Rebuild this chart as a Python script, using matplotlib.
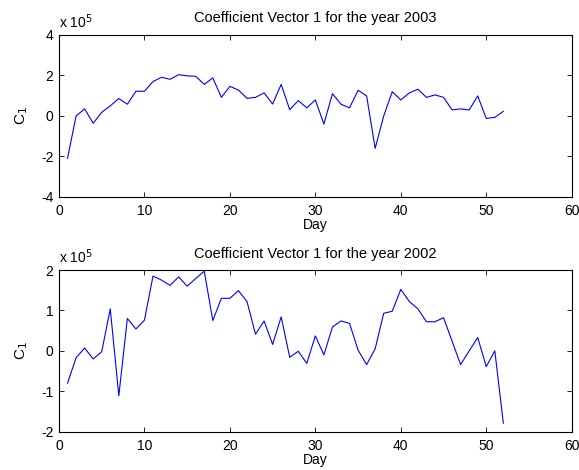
import matplotlib
matplotlib.use("Agg")
import matplotlib.pyplot as plt

plt.rcParams['font.family'] = ['Liberation Sans', 'DejaVu Sans']
plt.rcParams['axes.unicode_minus'] = False

days = list(range(1, 53))
# values in units of 1e5
c1_2003 = [-2.09, 0.0, 0.35, -0.36, 0.18, 0.5, 0.86, 0.58, 1.22, 1.22,
           1.7, 1.91, 1.81, 2.04, 1.98, 1.96, 1.56, 1.88, 0.92, 1.46,
           1.28, 0.87, 0.92, 1.14, 0.59, 1.56, 0.31, 0.76, 0.4, 0.79,
           -0.4, 1.1, 0.58, 0.4, 1.27, 0.99, -1.6, 0.0, 1.2, 0.79,
           1.14, 1.32, 0.92, 1.04, 0.92, 0.3, 0.35, 0.3, 0.99, -0.12,
           -0.07, 0.23]
c1_2002 = [-0.8, -0.17, 0.07, -0.2, -0.02, 1.04, -1.11, 0.8, 0.54, 0.76,
           1.85, 1.75, 1.62, 1.83, 1.6, 1.79, 1.97, 0.75, 1.3, 1.3,
           1.49, 1.22, 0.41, 0.74, 0.16, 0.84, -0.16, -0.01, -0.31, 0.37,
           -0.1, 0.59, 0.74, 0.68, 0.02, -0.34, 0.05, 0.93, 0.98, 1.52,
           1.22, 1.04, 0.72, 0.72, 0.82, 0.24, -0.34, 0.0, 0.33, -0.39,
           0.0, -1.79]

xticks = [0, 10, 20, 30, 40, 50, 60]
yticks_top = [-4, -2, 0, 2, 4]
yticks_bot = [-2, -1, 0, 1, 2]
titles = ["Coefficient Vector 1 for the year 2003",
          "Coefficient Vector 1 for the year 2002"]

fig = plt.figure(figsize=(5.79, 4.70), dpi=100)
ax1 = fig.add_axes([0.1019, 0.5809, 0.8855, 0.3447])
ax2 = fig.add_axes([0.1019, 0.0815, 0.8855, 0.3440])

for ax, vals, yt, title in [(ax1, c1_2003, yticks_top, titles[0]),
                            (ax2, c1_2002, yticks_bot, titles[1])]:
    ax.plot(days, vals, color=(0, 0, 1), linewidth=0.8)
    ax.set_xlim(0, 60)
    ax.set_ylim(yt[0], yt[-1])
    ax.set_xticks(xticks)
    ax.set_yticks(yt)
    ax.set_xticklabels([str(v) for v in xticks])
    ax.set_yticklabels([str(v) for v in yt])
    ax.tick_params(direction='in', top=True, right=True, length=3.5,
                   width=0.6, labelsize=10, pad=4)
    ax.tick_params(axis='x', pad=5)
    for s in ax.spines.values():
        s.set_linewidth(0.8)
    ax.set_title(title, fontsize=10.5, pad=9)
    ax.set_xlabel("Day", fontsize=10, labelpad=0)
    ax.set_ylabel("C$_1$", fontsize=11, labelpad=8)
    ax.text(0.0, 1.025, "x 10$^5$", transform=ax.transAxes, fontsize=10,
            ha='left', va='bottom')

fig.savefig("out.png", dpi=100)
